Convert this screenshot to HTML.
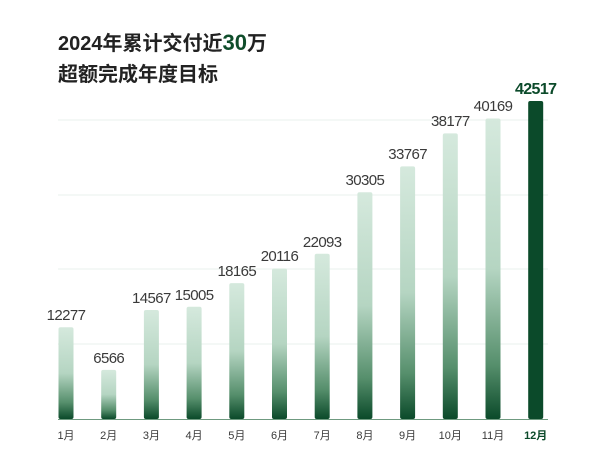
<!DOCTYPE html><html><head><meta charset="utf-8"><style>body{margin:0;background:#fff}</style></head><body>
<svg width="600" height="456" xmlns="http://www.w3.org/2000/svg" font-family="Liberation Sans, Noto Sans CJK SC, sans-serif">
<defs>
<linearGradient id="g" x1="0" y1="0" x2="0" y2="1"><stop offset="0" stop-color="#d5e9dd"/><stop offset="0.5" stop-color="#b5d5c2"/><stop offset="0.82" stop-color="#568f6c"/><stop offset="1" stop-color="#0b4a2a"/></linearGradient>
</defs>
<text x="58" y="50" font-size="20" font-weight="bold" fill="#222">2024年累计交付近<tspan fill="#0f4d2b" font-size="22">30</tspan>万</text>
<text x="58" y="81" font-size="20" font-weight="bold" fill="#222">超额完成年度目标</text>
<g stroke="#e9f0ec" stroke-width="1"><line x1="58" x2="548" y1="344" y2="344"/><line x1="58" x2="548" y1="269" y2="269"/><line x1="58" x2="548" y1="195" y2="195"/><line x1="58" x2="548" y1="120" y2="120"/></g>
<g fill="url(#g)">
<rect x="58.5" y="327.2" width="15" height="91.8" rx="2"/>
<rect x="101.2" y="369.9" width="15" height="49.1" rx="2"/>
<rect x="143.9" y="310" width="15" height="109" rx="2"/>
<rect x="186.6" y="306.8" width="15" height="112.2" rx="2"/>
<rect x="229.3" y="283.1" width="15" height="135.9" rx="2"/>
<rect x="272" y="268.5" width="15" height="150.5" rx="2"/>
<rect x="314.7" y="253.7" width="15" height="165.3" rx="2"/>
<rect x="357.4" y="192.3" width="15" height="226.7" rx="2"/>
<rect x="400.1" y="166.4" width="15" height="252.6" rx="2"/>
<rect x="442.8" y="133.4" width="15" height="285.6" rx="2"/>
<rect x="485.5" y="118.5" width="15" height="300.5" rx="2"/>
<rect x="528.2" y="101" width="15" height="318" rx="2" fill="#0b4a2a"/>
</g>
<g font-size="15" text-anchor="middle" fill="#3a3a3a" letter-spacing="-0.6">
<text x="66" y="320">12277</text>
<text x="108.7" y="363">6566</text>
<text x="151.4" y="303">14567</text>
<text x="194.1" y="300">15005</text>
<text x="236.8" y="276">18165</text>
<text x="279.5" y="261">20116</text>
<text x="322.2" y="247">22093</text>
<text x="364.9" y="185">30305</text>
<text x="407.6" y="159">33767</text>
<text x="450.3" y="126">38177</text>
<text x="493" y="111">40169</text>
<text x="535.7" y="94" font-size="16" font-weight="bold" fill="#0b4a2a">42517</text>
</g>
<g font-size="11" text-anchor="middle" fill="#3a3a3a">
<text x="66" y="439">1月</text><text x="108.7" y="439">2月</text><text x="151.4" y="439">3月</text><text x="194.1" y="439">4月</text><text x="236.8" y="439">5月</text><text x="279.5" y="439">6月</text><text x="322.2" y="439">7月</text><text x="364.9" y="439">8月</text><text x="407.6" y="439">9月</text><text x="450.3" y="439">10月</text><text x="493" y="439">11月</text><text x="535.7" y="439" font-weight="bold" fill="#0b4a2a">12月</text>
</g>
<line x1="58" x2="548" y1="419.5" y2="419.5" stroke="#6f9a80" stroke-width="1"/>
</svg></body></html>
